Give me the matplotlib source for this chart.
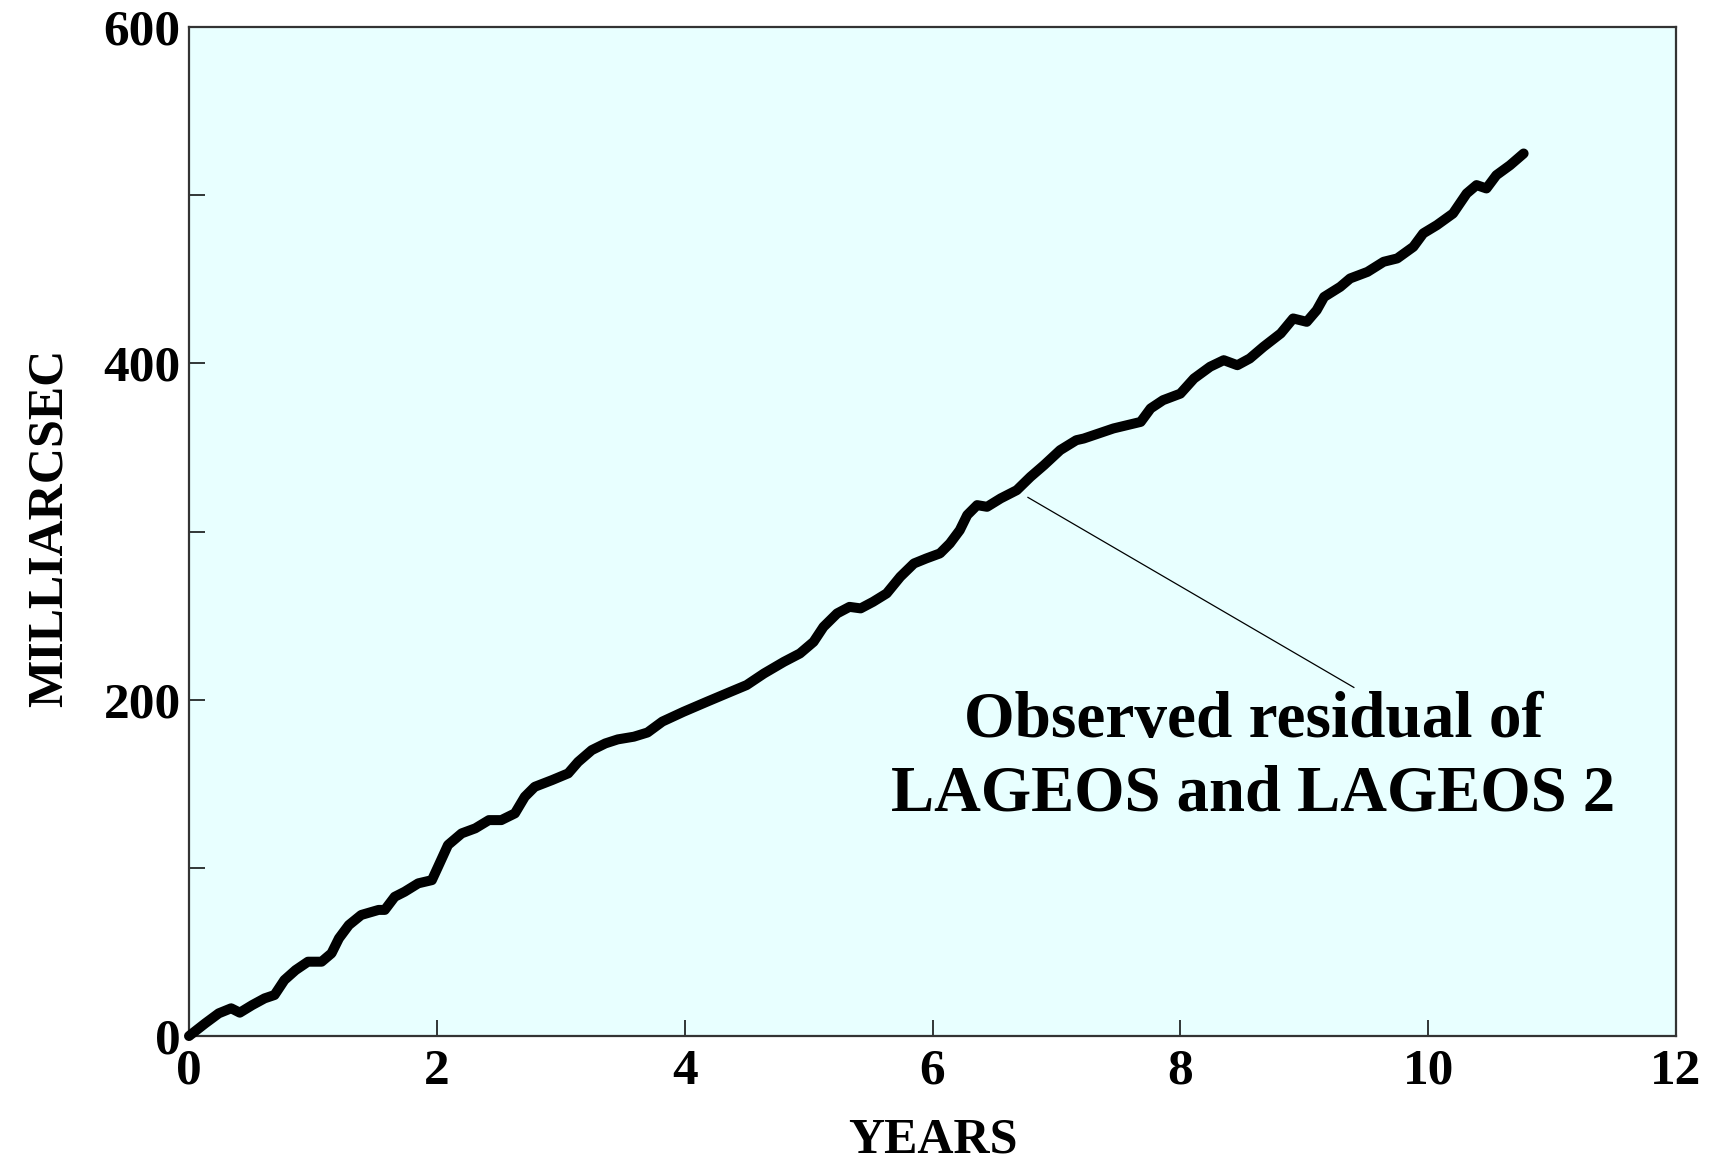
import matplotlib
matplotlib.use("Agg")
import matplotlib.pyplot as plt

# Combined LAGEOS / LAGEOS 2 node residual (milliarcseconds) vs time (years)
years = [0.00, 0.13, 0.24, 0.34, 0.41, 0.51, 0.61, 0.69, 0.77, 0.86, 0.96, 1.07,
         1.15, 1.21, 1.29, 1.39, 1.53, 1.58, 1.66, 1.74, 1.85, 1.96, 2.01, 2.09,
         2.20, 2.31, 2.42, 2.52, 2.63, 2.71, 2.79, 2.93, 3.06, 3.14, 3.25, 3.36,
         3.46, 3.59, 3.70, 3.82, 3.99, 4.18, 4.37, 4.50, 4.64, 4.80, 4.93, 5.04,
         5.12, 5.23, 5.33, 5.42, 5.52, 5.63, 5.74, 5.85, 5.95, 6.06, 6.14, 6.22,
         6.28, 6.36, 6.44, 6.55, 6.68, 6.79, 6.90, 7.03, 7.16, 7.22, 7.46, 7.68,
         7.76, 7.86, 8.00, 8.11, 8.24, 8.35, 8.46, 8.56, 8.67, 8.81, 8.91, 9.02,
         9.10, 9.16, 9.29, 9.37, 9.51, 9.64, 9.75, 9.88, 9.96, 10.07, 10.20, 10.31,
         10.39, 10.47, 10.55, 10.66, 10.77]
residual_mas = [0.0, 7.5, 13.5, 16.5, 13.9, 18.4, 22.4, 24.4, 33.3, 39.2, 44.2, 44.2,
                49.2, 58.1, 66.0, 72.0, 75.0, 75.0, 82.8, 85.8, 90.8, 92.7, 100.7, 113.6,
                120.5, 123.5, 128.4, 128.4, 132.4, 142.3, 148.2, 152.2, 156.2, 163.0, 170.0, 174.0,
                176.4, 178.0, 180.5, 187.0, 192.8, 198.8, 204.7, 208.7, 215.6, 222.5, 227.5, 234.4,
                243.3, 251.3, 255.2, 254.3, 258.2, 263.2, 273.1, 281.0, 284.0, 287.0, 292.9, 300.8,
                309.8, 315.7, 314.7, 319.7, 324.6, 332.5, 339.5, 348.4, 354.3, 355.3, 361.3, 365.2,
                373.2, 378.1, 382.0, 391.0, 398.0, 401.9, 398.9, 402.9, 409.8, 417.8, 426.7, 424.7,
                431.6, 439.5, 445.5, 450.5, 454.4, 460.4, 462.4, 469.3, 477.3, 482.2, 489.1, 501.0,
                506.0, 504.0, 511.9, 517.8, 524.8]

x_ticks = [0, 2, 4, 6, 8, 10, 12]
y_ticks = [0, 100, 200, 300, 400, 500, 600]
y_tick_labels = ["0", "", "200", "", "400", "", "600"]

label_lines = ["Observed residual of", "LAGEOS and LAGEOS 2"]

serif = "Liberation Serif"

fig = plt.figure(figsize=(17.12, 11.65), dpi=100)
ax = fig.add_axes([0.1104, 0.1107, 0.8686, 0.8661])
ax.set_facecolor("#E8FFFF")

ax.plot(years, residual_mas, color="black", linewidth=7.2,
        solid_capstyle="round", solid_joinstyle="round", clip_on=False, zorder=3)

ax.set_xlim(0, 12)
ax.set_ylim(0, 600)
ax.set_xticks(x_ticks)
ax.set_yticks(y_ticks)
ax.set_yticklabels(y_tick_labels)

for spine in ax.spines.values():
    spine.set_linewidth(1.6)
    spine.set_color("#333333")

ax.tick_params(axis="both", direction="in", length=11.5, width=1.1, color="black",
               top=False, right=False)
ax.tick_params(axis="x", pad=9)
ax.tick_params(axis="y", pad=6)
for lbl in ax.get_xticklabels() + ax.get_yticklabels():
    lbl.set_fontfamily(serif)
    lbl.set_fontweight("bold")
    lbl.set_fontsize(37)

ax.set_xlabel("YEARS", fontfamily=serif, fontweight="bold", fontsize=36)
ax.set_ylabel("MILLIARCSEC", fontfamily=serif, fontweight="bold", fontsize=36)
ax.xaxis.set_label_coords(0.5, -0.081)
ax.yaxis.set_label_coords(-0.078, 0.504)

# Pointer from the curve to the caption
ax.plot([6.77, 9.40], [320.3, 207.3], color="black", linewidth=0.9)

ax.text(8.59, 177.9, label_lines[0], ha="center", va="baseline",
        fontfamily=serif, fontweight="bold", fontsize=47)
ax.text(8.59, 134.4, label_lines[1], ha="center", va="baseline",
        fontfamily=serif, fontweight="bold", fontsize=46.5)

fig.savefig("out.png", dpi=100, facecolor="white")
